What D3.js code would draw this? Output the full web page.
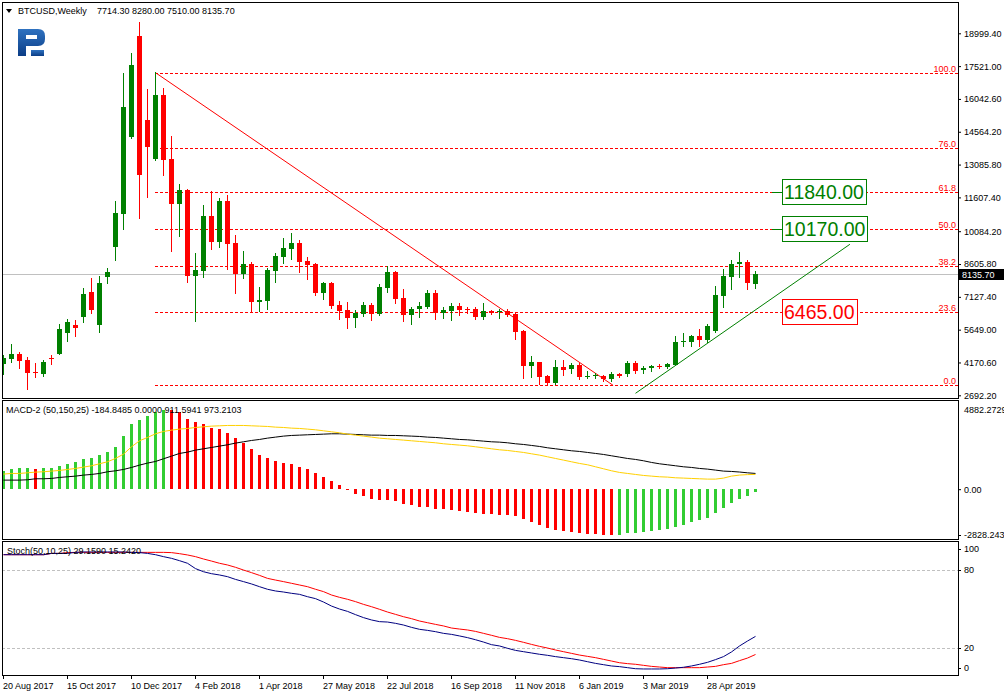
<!DOCTYPE html>
<html><head><meta charset="utf-8">
<script src="https://cdn.jsdelivr.net/npm/d3@7"></script>
<style>
body{margin:0;background:#fff}
svg{display:block}
text{font-family:"Liberation Sans",Arial,sans-serif;font-size:9px;fill:#000}
</style></head>
<body><svg id="c" width="1004" height="696"></svg>
<script>
// ---------- DATA ----------
const dateLabels = ["20 Aug 2017","15 Oct 2017","10 Dec 2017","4 Feb 2018","1 Apr 2018","27 May 2018","22 Jul 2018","16 Sep 2018","11 Nov 2018","6 Jan 2019","3 Mar 2019","28 Apr 2019"];
const dateTickIdx = [0,8,16,24,32,40,48,56,64,72,80,88];
const open  = [4087,4327,4552,4282,3742,3666,4372,4567,5514,5859,6204,7346,5874,8021,9388,10875,14329,18894,15094,13352,16221,13322,11295,11941,8081,8307,10770,9613,11430,9553,8157,8607,6910,6955,8307,8937,9298,9553,8757,8607,7316,7766,6760,6535,6190,6355,6745,6355,7541,8247,7061,6325,6565,6670,7301,6415,6490,6715,6580,6580,6235,6490,6445,6490,6355,5589,4027,4192,3561,3231,3982,3861,4072,3546,3576,3562,3411,3667,3652,4162,3832,3922,4027,3982,4072,5078,5108,5349,5168,5574,7166,8037,8592,8697,7714.3];
const high  = [4507,5003,4658,4402,4162,4282,4507,5904,6129,6084,7511,7961,8066,8427,11445,17197,18113,19509,16476,17242,16521,14374,12211,11986,9103,11280,11881,11580,11716,9899,9208,8712,7571,8442,9088,9778,10004,9688,8907,8637,7811,7796,6940,6895,6535,6880,6850,7706,8517,8307,7481,6670,6895,7421,7436,6655,6850,6850,6685,6670,6850,6520,6595,6580,6415,5620,4477,4210,3621,4282,4282,4132,4132,3801,3711,3590,3757,3712,4237,4252,4012,4057,4102,4162,5364,5484,5424,5679,5889,7631,8382,8787,9148,8787,8280];
const low   = [3636,4177,3937,2991,3531,3561,4102,4540,5153,5378,5994,6415,5559,7766,8802,10199,14299,10694,11640,13292,12632,9208,9884,7811,6024,8006,9298,9388,8397,7316,7976,6490,6490,6595,7811,8667,8847,8232,7946,7195,7031,6640,6129,5739,5769,6265,6099,6325,7361,6865,6024,5919,6235,6610,6115,6190,6099,6325,6415,6115,6115,6370,6190,6265,5214,3486,3531,3201,3201,3186,3591,3711,3441,3486,3456,3351,3351,3532,3577,3682,3682,3802,3907,3907,4042,4913,4928,4928,5093,5540,6655,7496,8037,7466,7510];
const close = [4387,4552,4237,3712,3681,4207,4327,5679,5994,5739,7256,6535,7751,8247,10905,15680,17572,12632,13893,16221,13307,11295,11941,8081,8337,10770,9613,11430,9523,8157,8607,6910,6985,8352,8967,9328,9553,8712,8547,7301,7766,6715,6505,6175,6400,6745,6355,7571,8247,7046,6325,6580,6715,7301,6415,6550,6715,6550,6550,6235,6490,6415,6490,6310,5559,4027,4192,3531,3231,3982,3846,4072,3531,3576,3621,3411,3637,3577,4162,3802,3937,4012,3982,4102,5093,5138,5364,5168,5829,7211,8067,8607,8697,7736,8135.7];
const priceTicks = [18999.40,17521.00,16042.60,14564.20,13085.80,11607.40,10084.20,8605.80,7127.40,5649.00,4170.60,2692.20];
const lastPrice = 8135.70;

const macdHist = [1116,1239,1301,1305,1239,1301,1310,1424,1548,1671,1856,1918,2103,2288,2597,3276,4017,4282,4529,4760,4882,4860,4750,4350,4140,4017,3800,3708,3492,3171,2844,2473,2103,1918,1733,1610,1548,1363,1239,992,746,499,252,-36,-304,-427,-612,-674,-680,-736,-921,-982,-1106,-1110,-1229,-1235,-1291,-1353,-1414,-1476,-1538,-1545,-1599,-1605,-1661,-1846,-2031,-2217,-2402,-2525,-2587,-2649,-2710,-2772,-2790,-2810,-2828,-2820,-2710,-2700,-2649,-2587,-2525,-2463,-2340,-2217,-2031,-1908,-1785,-1476,-1168,-859,-612,-427,-185];
const macdMain = [560,560,560,581,643,643,663,725,766,807,869,910,972,1075,1136,1219,1342,1486,1610,1712,1877,2041,2206,2288,2412,2494,2576,2659,2741,2844,2926,3008,3070,3152,3214,3276,3317,3337,3358,3378,3399,3420,3420,3399,3378,3358,3337,3337,3317,3317,3296,3276,3255,3214,3193,3152,3111,3070,3049,3008,2967,2926,2905,2864,2803,2761,2700,2638,2556,2494,2432,2371,2329,2268,2206,2144,2062,1980,1897,1836,1754,1651,1568,1507,1445,1383,1342,1280,1239,1178,1116,1095,1060,1010,973.2];
const macdSignal = [931,972,972,1013,1054,1075,1116,1157,1219,1280,1363,1445,1568,1692,1897,2165,2617,2988,3193,3420,3564,3646,3708,3749,3810,3852,3893,3913,3934,3934,3934,3913,3893,3872,3831,3810,3769,3749,3708,3666,3605,3543,3481,3399,3337,3276,3214,3152,3111,3070,3029,2988,2947,2905,2864,2803,2761,2720,2679,2617,2556,2494,2432,2391,2329,2268,2185,2103,2000,1897,1795,1692,1589,1507,1383,1260,1136,1034,972,910,848,807,766,746,704,684,663,643,622,622,684,807,870,900,911.6];
const macdTicks = [4882.2729, 0, -2828.2439];
const macdTickLabels = ["4882.2729","0.00","-2828.2439"];

const stochMain = [92.0,92.0,92.0,92.0,92.0,92.0,93.0,93.0,93.0,93.8,94.1,94.1,94.1,94.1,94.1,94.1,93.8,93.6,93.0,92.0,90.5,89.2,87.4,85.4,81.3,78.9,77.4,76.4,75.1,73.0,71.3,69.5,67.4,65.4,64.1,63.3,62.3,61.5,59.7,58.2,55.6,52.5,50.2,48.4,45.9,43.6,41.8,40.5,40.2,39.2,37.9,36.1,34.6,33.8,32.8,31.5,30.7,29.5,28.2,26.6,24.8,22.8,21.8,20.0,18.4,17.4,16.4,15.4,14.6,13.6,12.8,12.0,11.0,9.7,8.4,7.4,6.4,5.9,5.1,4.3,4.1,4.1,4.1,4.3,4.8,5.4,6.4,7.7,9.2,11.3,13.6,17.2,21.8,25.6,29.159];
const stochSignal = [92.0,92.0,92.0,92.0,92.0,92.0,93.0,93.0,93.6,93.8,93.8,93.8,93.8,93.8,93.8,93.8,93.8,93.8,93.8,93.8,93.8,93.6,92.8,91.8,90.5,88.7,87.1,85.4,84.1,82.3,80.2,78.2,76.1,73.8,72.5,71.3,70.0,68.7,67.4,65.4,63.6,61.0,59.2,57.7,55.9,53.8,52.0,50.0,47.9,46.1,44.3,42.8,41.0,39.7,38.4,37.2,35.6,34.8,34.1,33.0,31.5,30.0,28.4,27.4,26.1,24.6,23.0,21.5,20.2,18.7,17.4,16.1,14.8,13.8,12.8,11.5,10.2,8.9,8.2,7.7,6.9,6.1,5.6,5.1,5.1,5.1,5.1,5.1,5.6,6.1,7.4,8.4,10.5,12.5,15.242];
const stochLevels = [20, 80];

const fibLevels = [0, 23.6, 38.2, 50, 61.8, 76, 100];
const fibLabels = ["0.0","23.6","38.2","50.0","61.8","76.0","100.0"];
const fibLowPrice = 3140, fibHighPrice = 17225, fibStartIdx = 19;
const redTrend = [{i:19, p:17225}, {i:76.2, p:3140}];
const greenTrend = [{i:79, p:2782}, {i:105.8, p:9495}];
const targetBoxes = [
  {label:"11840.00", level:61.8, color:"#008000", leader:true},
  {label:"10170.00", level:50,   color:"#008000", leader:true},
  {label:"6465.00",  level:23.6, color:"#ff0000", leader:false}
];

// ---------- LAYOUT ----------
const svg = d3.select("#c");
const L = 2, R = 958;
const main = {top:2, bottom:398}, macdP = {top:400, bottom:539}, stP = {top:541, bottom:675};

const x = d3.scaleLinear().domain([0, 94]).range([3, 755]);
const yP = d3.scaleLinear().domain([2692.2, 18999.4]).range([395.3, 33.3]);
const yM = d3.scaleLinear().domain([-2828.2439, 4882.2729]).range([535, 410.1]);
const yS = d3.scaleLinear().domain([0, 100]).range([674.3, 544.3]);
const fibPrice = lv => fibLowPrice + (fibHighPrice - fibLowPrice) * lv / 100;

const defs = svg.append("defs");
[["clipMain",main],["clipMacd",macdP],["clipSt",stP]].forEach(([id,p]) => {
  defs.append("clipPath").attr("id", id).append("rect")
    .attr("x", L+1).attr("y", p.top+1).attr("width", R-L-1).attr("height", p.bottom-p.top-1);
});
const grad = defs.append("linearGradient").attr("id","logoG").attr("x1",0).attr("y1",0).attr("x2",0).attr("y2",1);
grad.append("stop").attr("offset","0%").attr("stop-color","#2f72c0");
grad.append("stop").attr("offset","100%").attr("stop-color","#0b3d86");

// ---------- MAIN PANEL ----------
const gMain = svg.append("g").attr("clip-path","url(#clipMain)");

// current price line
gMain.append("line").attr("x1",L).attr("x2",R)
  .attr("y1",Math.round(yP(lastPrice))+0.5).attr("y2",Math.round(yP(lastPrice))+0.5)
  .attr("stroke","#c0c0c0");

// fib lines
fibLevels.forEach((lv,k) => {
  const yy = Math.round(yP(fibPrice(lv))) + 0.5;
  gMain.append("line").attr("x1", x(fibStartIdx)).attr("x2", R).attr("y1", yy).attr("y2", yy)
    .attr("stroke","#ff0000").attr("stroke-dasharray","3,2");
  gMain.append("text").attr("x", 956).attr("y", yy - 2).attr("text-anchor","end")
    .style("fill","#ff0000").text(fibLabels[k]);
});

// trend lines
const tl = d3.line().x(d => x(d.i) + 0.5).y(d => yP(d.p));
gMain.append("path").attr("d", tl(redTrend)).attr("fill","none").attr("stroke","#ff0000");
gMain.append("path").attr("d", tl(greenTrend)).attr("fill","none").attr("stroke","#008000");

// candles
const idx = d3.range(open.length);
const cg = gMain.append("g");
idx.forEach(i => {
  const up = close[i] >= open[i];
  const col = up ? "#008000" : "#ff0000";
  const cx = Math.round(x(i));
  cg.append("line").attr("x1", cx+0.5).attr("x2", cx+0.5)
    .attr("y1", Math.round(yP(high[i]))).attr("y2", Math.round(yP(low[i]))+1)
    .attr("stroke", col);
  const t = Math.round(yP(Math.max(open[i], close[i])));
  const b = Math.round(yP(Math.min(open[i], close[i])));
  cg.append("rect").attr("x", cx-2).attr("y", t).attr("width", 5).attr("height", Math.max(1, b - t))
    .attr("fill", col);
});

// target boxes
targetBoxes.forEach(bx => {
  const cy = Math.round(yP(fibPrice(bx.level)));
  const x0 = Math.round(x(97.4));
  const tx = gMain.append("text").attr("x", x0 + 2).attr("y", cy + 7)
    .style("font-size","19.5px").style("fill", bx.color).text(bx.label);
  const w = tx.node().getComputedTextLength();
  gMain.insert("rect", () => tx.node()).attr("x", x0 + 0.5).attr("y", cy - 12.5)
    .attr("width", Math.round(w) + 4).attr("height", 25)
    .attr("fill","#fff").attr("stroke", bx.color);
  if (bx.leader) {
    gMain.append("line").attr("x1", Math.round(x(96.1))).attr("x2", x0)
      .attr("y1", cy + 0.5).attr("y2", cy + 0.5).attr("stroke", bx.color);
  }
});

// logo
const lg = svg.append("g").attr("fill","url(#logoG)");
lg.append("path").attr("d","M18,29 H38 Q45,29 45,36 V39 Q45,46 38,46 H26 V56 H18 Z");
lg.append("rect").attr("x",26).attr("y",35).attr("width",11).attr("height",4).attr("fill","#fff");
lg.append("rect").attr("x",31).attr("y",50).attr("width",13).attr("height",6);

// header
svg.append("path").attr("d","M6,9 L12,9 L9,13 Z").attr("fill","#000");
svg.append("text").attr("x",18).attr("y",14).text("BTCUSD,Weekly");
svg.append("text").attr("x",97).attr("y",14).text([open[94],high[94],low[94],close[94]].map(v=>v.toFixed(2)).join(" "));

// price axis
const ax = svg.append("g").attr("transform",`translate(${R},0)`)
  .call(d3.axisRight(yP).tickValues(priceTicks).tickSize(3).tickPadding(3).tickFormat(d => d.toFixed(2)));
ax.select(".domain").remove();
ax.selectAll("text").style("font-size","9px").style("font-family","Liberation Sans, Arial, sans-serif");
ax.selectAll("line").attr("stroke","#000");

// last price marker
const lpY = Math.round(yP(lastPrice));
svg.append("rect").attr("x", R+1).attr("y", lpY-5).attr("width", 46).attr("height", 11).attr("fill","#000");
svg.append("text").attr("x", R+4).attr("y", lpY+4).style("fill","#fff").text(lastPrice.toFixed(2));

// ---------- MACD PANEL ----------
const gM = svg.append("g").attr("clip-path","url(#clipMacd)");
const y0 = Math.round(yM(0));
idx.forEach(i => {
  const v = macdHist[i];
  const rising = i === 0 ? true : v >= macdHist[i-1];
  const yy = Math.round(yM(v));
  gM.append("rect").attr("x", Math.round(x(i)) - 1).attr("width", 3)
    .attr("y", Math.min(yy, y0)).attr("height", Math.max(1, Math.abs(y0 - yy)))
    .attr("fill", rising ? "#32cd32" : "#ff0000");
});
const ml = arr => d3.line().x((d,i) => x(i) + 0.5).y(d => yM(d))(arr);
gM.append("path").attr("d", ml(macdMain)).attr("fill","none").attr("stroke","#000");
gM.append("path").attr("d", ml(macdSignal)).attr("fill","none").attr("stroke","#ffd000");
svg.append("text").attr("x",6).attr("y",413).text("MACD-2 (50,150,25) -184.8485 0.0000 911.5941 973.2103");

const axM = svg.append("g").attr("transform",`translate(${R},0)`)
  .call(d3.axisRight(yM).tickValues(macdTicks).tickSize(3).tickPadding(3).tickFormat((d,k) => macdTickLabels[k]));
axM.select(".domain").remove();
axM.selectAll("text").style("font-size","9px").style("font-family","Liberation Sans, Arial, sans-serif");
axM.selectAll(".tick").filter((d,k) => k === 0).select("line").remove();

// ---------- STOCH PANEL ----------
const gS = svg.append("g").attr("clip-path","url(#clipSt)");
stochLevels.forEach(lv => {
  gS.append("line").attr("x1",L).attr("x2",R).attr("y1",Math.round(yS(lv))+0.5).attr("y2",Math.round(yS(lv))+0.5)
    .attr("stroke","#c0c0c0").attr("stroke-dasharray","3,2");
});
const sl = arr => d3.line().x((d,i) => x(i) + 0.5).y(d => yS(d))(arr);
gS.append("path").attr("d", sl(stochSignal)).attr("fill","none").attr("stroke","#ff0000");
gS.append("path").attr("d", sl(stochMain)).attr("fill","none").attr("stroke","#000080");
svg.append("text").attr("x",7).attr("y",554).text("Stoch(50,10,25) 29.1590 15.2420");

const stTicks = [{v:100, off:5}, {v:80, off:0}, {v:20, off:0}, {v:0, off:-6}];
const axS = svg.append("g").attr("transform",`translate(${R},0)`);
stTicks.forEach(t => {
  const yy = Math.round(yS(t.v) + t.off) + 0.5;
  axS.append("line").attr("x1",0).attr("x2",3).attr("y1",yy).attr("y2",yy).attr("stroke","#000");
  axS.append("text").attr("x",6).attr("y",yy).attr("dy","0.32em").text(t.v);
});

// ---------- TIME AXIS ----------
const axX = svg.append("g");
dateTickIdx.forEach((ti,k) => {
  const xx = Math.round(x(ti)) + 0.5;
  axX.append("line").attr("x1",xx).attr("x2",xx).attr("y1",stP.bottom).attr("y2",stP.bottom+4).attr("stroke","#000");
  axX.append("text").attr("x",Math.round(x(ti))).attr("y",689).text(dateLabels[k]);
});

// ---------- FRAMES ----------
[main, macdP, stP].forEach(p => {
  svg.append("rect").attr("x", L+0.5).attr("y", p.top+0.5).attr("width", R-L).attr("height", p.bottom-p.top)
    .attr("fill","none").attr("stroke","#000");
});
</script></body></html>
